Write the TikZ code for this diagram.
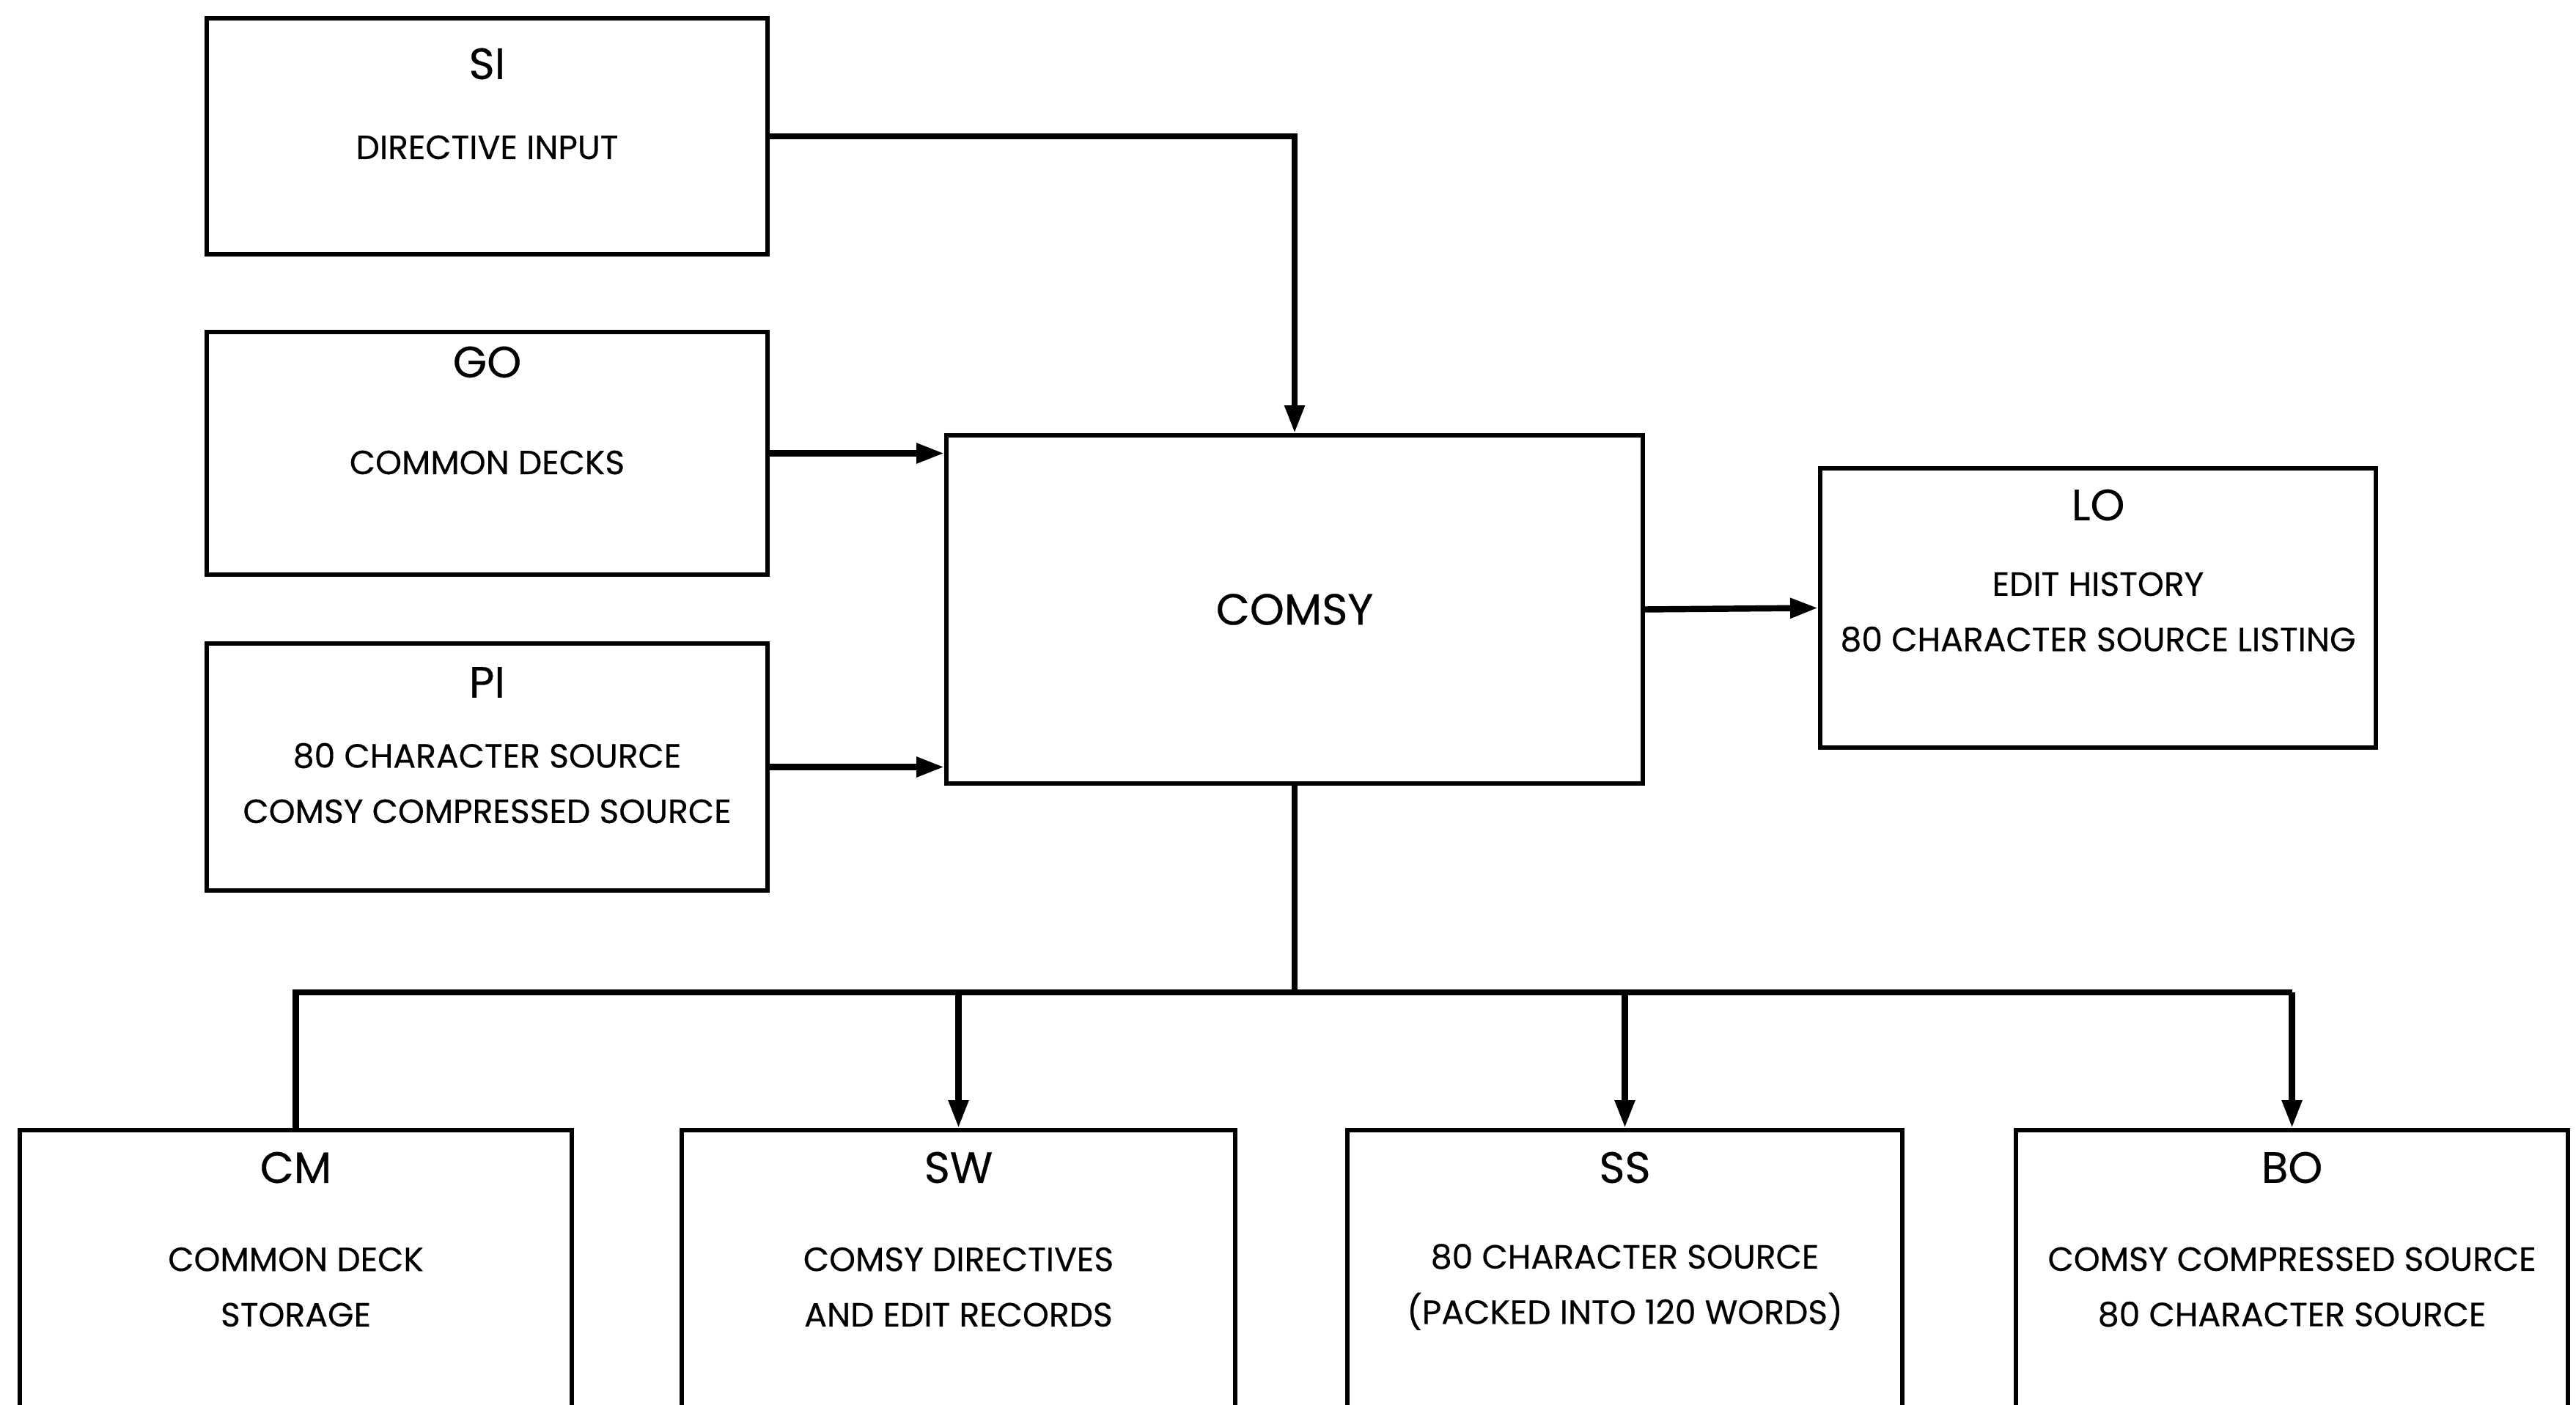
\documentclass[tikz,border=0pt]{standalone}
\usepackage{fontspec}
\setmainfont{Poppins}[FakeBold=0.4]
\usetikzlibrary{positioning}
\usetikzlibrary{calc}
\usetikzlibrary{arrows.meta}

\tikzset{
  unitbox/.style={draw, line width=1.7pt, minimum width=7.6cm, minimum height=3.3cm, inner sep=0pt},
  boxname/.style={font=\fontsize{17}{20}\selectfont},
  boxinfo/.style={font=\fontsize{13}{21.5}\selectfont, align=center},
  wire/.style={line width=2.4pt},
  flow/.style={wire, -{Triangle[length=0.38cm, width=0.26cm]}}
}

\begin{document}
\begin{tikzpicture}

\useasboundingbox (0,0) rectangle (35.14,19.16);
\clip (0,0) rectangle (35.14,19.16);

%---------------------------------------
% Input units
%---------------------------------------
\node[unitbox, minimum width=7.65cm, minimum height=3.22cm] (si) at (6.645,17.30) {};
\node[boxname] at ([yshift=-0.65cm]si.north) {SI};
\node[boxinfo] at ([yshift=-1.79cm]si.north) {DIRECTIVE INPUT};

\node[unitbox, minimum width=7.65cm, minimum height=3.31cm] (go) at (6.645,12.975) {};
\node[boxname] at ([yshift=-0.44cm]go.north) {GO};
\node[boxinfo] at ([yshift=-1.81cm]go.north) {COMMON DECKS};

\node[unitbox, minimum width=7.65cm, minimum height=3.37cm] (pi) at (6.645,8.695) {};
\node[boxname] at ([yshift=-0.56cm]pi.north) {PI};
\node[boxinfo] at ([yshift=-1.935cm]pi.north) {80 CHARACTER SOURCE\\COMSY COMPRESSED SOURCE};

%---------------------------------------
% Program and listing
%---------------------------------------
\node[unitbox, minimum width=9.5cm, minimum height=4.75cm, boxname] (comsy) at (17.66,10.845) {COMSY};

\node[unitbox, minimum width=7.58cm, minimum height=3.81cm] (lo) at (28.62,10.865) {};
\node[boxname] at ([yshift=-0.53cm]lo.north) {LO};
\node[boxinfo] at ([yshift=-1.99cm]lo.north) {EDIT HISTORY\\80 CHARACTER SOURCE LISTING};

%---------------------------------------
% Output units (run off the page)
%---------------------------------------
\node[unitbox, minimum width=7.53cm, minimum height=3.84cm] (cm) at (4.035,1.82) {};
\node[boxname] at ([yshift=-0.54cm]cm.north) {CM};
\node[boxinfo] at ([yshift=-2.17cm]cm.north) {COMMON DECK\\STORAGE};

\node[unitbox, minimum width=7.55cm, minimum height=3.84cm] (sw) at (13.075,1.82) {};
\node[boxname] at ([yshift=-0.54cm]sw.north) {SW};
\node[boxinfo] at ([yshift=-2.17cm]sw.north) {COMSY DIRECTIVES\\AND EDIT RECORDS};

\node[unitbox, minimum width=7.57cm, minimum height=3.84cm] (ss) at (22.165,1.82) {};
\node[boxname] at ([yshift=-0.54cm]ss.north) {SS};
\node[boxinfo] at ([yshift=-2.17cm]ss.north) {80 CHARACTER SOURCE\\(PACKED INTO 120 WORDS)};

\node[unitbox, minimum width=7.53cm, minimum height=3.84cm] (bo) at (31.265,1.82) {};
\node[boxname] at ([yshift=-0.54cm]bo.north) {BO};
\node[boxinfo] at ([yshift=-2.17cm]bo.north) {COMSY COMPRESSED SOURCE\\80 CHARACTER SOURCE};

%---------------------------------------
% Connectors
%---------------------------------------
\draw[flow] (si.east) -| (comsy.north);
\draw[flow] (go.east) -- (go.east -| comsy.west);
\draw[flow] (pi.east) -- (pi.east -| comsy.west);
\draw[flow] (comsy.east) -- (lo.west);

\coordinate (bus) at (comsy.south |- 0,5.62);
\draw[wire] (comsy.south) -- (bus);
\draw[wire] (cm.north) |- (bus -| bo.north);
\foreach \unit in {sw,ss,bo}
  \draw[flow] (bus -| \unit.north) -- (\unit.north);

\end{tikzpicture}
\end{document}
